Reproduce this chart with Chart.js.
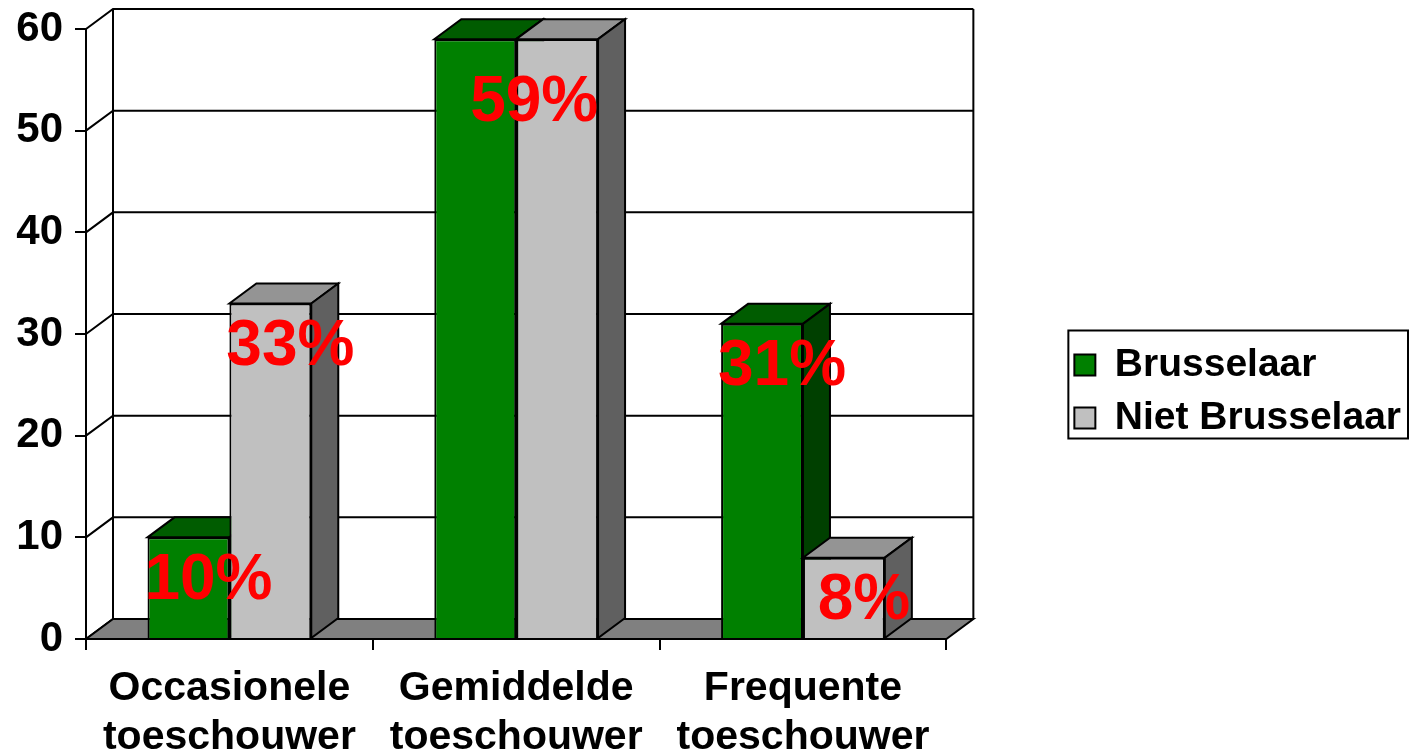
<!DOCTYPE html>
<html>
<head>
<meta charset="utf-8">
<script src="https://cdn.jsdelivr.net/npm/chart.js@4/dist/chart.umd.min.js"></script>
<style>
  html, body { margin: 0; padding: 0; background: #fff; }
  #wrap { width: 1411px; height: 754px; }
</style>
</head>
<body>
<div id="wrap"><canvas id="chart"></canvas></div>
<script>
// values (percent)
const categories = [['Occasionele', 'toeschouwer'], ['Gemiddelde', 'toeschouwer'], ['Frequente', 'toeschouwer']];
const seriesNames = ['Brusselaar', 'Niet Brusselaar'];
const brusselaar = [10, 59, 31];
const nietBrusselaar = [33, 59, 8];
const yMin = 0, yMax = 60, yStep = 10;

// 3D look: front / top / side colours per series, depth offset of the box
const faces = [
    { front: '#008000', top: '#005c00', side: '#004000' },
    { front: '#c0c0c0', top: '#949494', side: '#606060' }
];
const DX = 27, DY = -20;
const FONT = "'Liberation Sans', Arial, sans-serif";

function poly(ctx, pts, fill) {
    ctx.beginPath();
    ctx.moveTo(pts[0][0], pts[0][1]);
    for (let i = 1; i < pts.length; i++) ctx.lineTo(pts[i][0], pts[i][1]);
    ctx.closePath();
    if (fill) { ctx.fillStyle = fill; ctx.fill(); }
    ctx.stroke();
}

const walls = {
    id: 'walls',
    // back wall, grid lines on it and the floor
    beforeDatasetsDraw(chart) {
        const { ctx, chartArea: a, scales: { y } } = chart;
        ctx.save();
        ctx.strokeStyle = '#000';
        ctx.lineWidth = 2;
        for (let v = yMin; v <= yMax; v += yStep) {
            const py = y.getPixelForValue(v);
            ctx.beginPath();
            ctx.moveTo(a.left, py);
            ctx.lineTo(a.left + DX, py + DY);
            ctx.lineTo(a.right + DX, py + DY);
            ctx.stroke();
        }
        const top = y.getPixelForValue(yMax), bot = y.getPixelForValue(yMin);
        ctx.beginPath();
        ctx.moveTo(a.left + DX, top + DY); ctx.lineTo(a.left + DX, bot + DY);
        ctx.moveTo(a.right + DX, top + DY); ctx.lineTo(a.right + DX, bot + DY);
        ctx.stroke();
        poly(ctx, [[a.left, bot], [a.right, bot], [a.right + DX, bot + DY], [a.left + DX, bot + DY]], '#808080');
        ctx.restore();
    },
    // bars are painted below, left to right, so the boxes overlap correctly
    beforeDatasetDraw() { return false; },
    afterDatasetsDraw(chart) {
        const { ctx } = chart;
        ctx.save();
        categories.forEach((c, i) => {
            chart.data.datasets.forEach((d, k) => {
                const bar = chart.getDatasetMeta(k).data[i];
                const f = faces[k];
                bar.draw(ctx);
                ctx.strokeStyle = '#000';
                ctx.lineWidth = 2;
                const L = bar.x - bar.width / 2, R = bar.x + bar.width / 2;
                poly(ctx, [[L, bar.y], [R, bar.y], [R + DX, bar.y + DY], [L + DX, bar.y + DY]], f.top);
                poly(ctx, [[R, bar.y], [R + DX, bar.y + DY], [R + DX, bar.base + DY], [R, bar.base]], f.side);
            });
        });
        ctx.restore();
    },
    afterDraw(chart) {
        // frame round the legend
        const lg = chart.legend;
        const hb = lg.legendHitBoxes;
        if (!hb || !hb.length) return;
        const ctx = chart.ctx;
        const last = hb[hb.length - 1];
        const t = hb[0].top - 15, b = last.top + last.height + 1;
        const l = hb[0].left - 6;
        ctx.save();
        ctx.strokeStyle = '#000';
        ctx.lineWidth = 2;
        ctx.strokeRect(l, t, lg.right - 3 - l, b - t);
        ctx.restore();
    }
};

// red percentage labels; equal values in one category share a single label
const pctLabels = {
    id: 'pctLabels',
    afterDatasetsDraw(chart) {
        const { ctx } = chart;
        const metas = [0, 1].map(i => chart.getDatasetMeta(i));
        ctx.save();
        ctx.fillStyle = '#ff0000';
        ctx.font = 'bold 64px ' + FONT;
        ctx.textAlign = 'center';
        ctx.textBaseline = 'middle';
        categories.forEach((c, i) => {
            const vals = chart.data.datasets.map(d => d.data[i]);
            const bars = metas.map(m => m.data[i]);
            if (vals[0] === vals[1]) {
                const x = (bars[0].x + bars[1].x) / 2;
                ctx.fillText(vals[0] + '%', x + 18, Math.min(bars[0].y, bars[1].y) + 64);
            } else {
                bars.forEach((bar, k) => ctx.fillText(vals[k] + '%', bar.x + 20, bar.y + 44));
            }
        });
        ctx.restore();
    }
};

new Chart(document.getElementById('chart'), {
    type: 'bar',
    data: {
        labels: categories,
        datasets: [{
            label: seriesNames[0],
            data: brusselaar,
            backgroundColor: faces[0].front,
            borderColor: '#000',
            borderWidth: 2,
            categoryPercentage: 0.571,
            barPercentage: 1
        }, {
            label: seriesNames[1],
            data: nietBrusselaar,
            backgroundColor: faces[1].front,
            borderColor: '#000',
            borderWidth: 2,
            categoryPercentage: 0.571,
            barPercentage: 1
        }]
    },
    options: {
        responsive: true,
        maintainAspectRatio: false,
        animation: false,
        layout: { padding: { top: 29, left: 0, right: 0, bottom: 0 } },
        scales: {
            x: {
                grid: { drawOnChartArea: false, drawTicks: true, tickLength: 11, color: '#000', lineWidth: 2, offset: true },
                border: { display: true, color: '#000', width: 2 },
                ticks: { color: '#000', padding: 14, font: { family: FONT, size: 41, weight: 'bold', lineHeight: 1.2 }, maxRotation: 0, autoSkip: false },
                afterFit(s) { s.height = 115; }
            },
            y: {
                min: yMin, max: yMax,
                grid: { drawOnChartArea: false, drawTicks: true, tickLength: 11, color: '#000', lineWidth: 2 },
                border: { display: true, color: '#000', width: 2 },
                ticks: { stepSize: yStep, color: '#000', padding: 12, font: { family: FONT, size: 42, weight: 'bold', lineHeight: 0.6 } },
                afterFit(s) { s.width = 86; }
            },
            // empty space between the plot and the legend
            gap: {
                type: 'linear', position: 'right', display: false,
                afterFit(s) { s.width = 114; }
            }
        },
        plugins: {
            legend: {
                position: 'right',
                labels: {
                    color: '#000',
                    boxWidth: 21, boxHeight: 21, padding: 14,
                    font: { family: FONT, size: 39, weight: 'bold' }
                }
            },
            tooltip: { enabled: false }
        }
    },
    plugins: [walls, pctLabels]
});
</script>
</body>
</html>
